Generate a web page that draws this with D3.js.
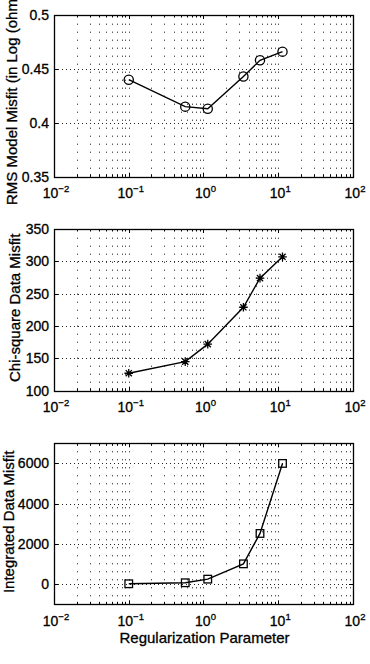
<!DOCTYPE html>
<html>
<head>
<meta charset="utf-8">
<script src="https://cdn.jsdelivr.net/npm/d3@7"></script>
<style>
  body { margin: 0; background: #fff; }
  svg { display: block; font-family: "Liberation Sans", Arial, Helvetica, sans-serif; }
  text { fill: #000; stroke: #000; stroke-width: 0.3; }
</style>
</head>
<body>
<div id="chart"></div>
<script>
// Data
const lambdas = [0.1, 0.57, 1.14, 3.42, 5.7, 11.4];
const rmsMisfit = [0.440, 0.415, 0.413, 0.443, 0.458, 0.466];
const chiSquare = [127, 145, 172, 229, 274, 307];
const integratedMisfit = [20, 70, 250, 1010, 2520, 6000];

const xTickExps = [-2, -1, 0, 1, 2];
const rmsTicks = [0.35, 0.4, 0.45, 0.5];
const rmsTickLabels = ['0.35', '0.4', '0.45', '0.5'];
const chiTicks = [100, 150, 200, 250, 300, 350];
const chiTickLabels = ['100', '150', '200', '250', '300', '350'];
const intTicks = [0, 2000, 4000, 6000];
const intTickLabels = ['0', '2000', '4000', '6000'];

// the first label runs off the top of the figure in the original
const yLabels = ['RMS Model Misfit (in Log (ohm', 'Chi-square Data Misfit', 'Integrated Data Misfit'];
const xLabel = 'Regularization Parameter';

// Dimensions
const width = 370;
const height = 664;
const left = 54;
const right = 353;

const panels = [
  {top: 15, bottom: 176.7, domain: [0.35, 0.5], values: rmsMisfit, ticks: rmsTicks, labels: rmsTickLabels, marker: 'circle', label: yLabels[0], labelX: 16.5},
  {top: 229, bottom: 390.7, domain: [100, 350], values: chiSquare, ticks: chiTicks, labels: chiTickLabels, marker: 'star', label: yLabels[1], labelX: 19.5},
  {top: 443.3, bottom: 604.3, domain: [-1000, 7000], values: integratedMisfit, ticks: intTicks, labels: intTickLabels, marker: 'square', label: yLabels[2], labelX: 14}
];

const svg = d3.select('#chart')
  .append('svg')
    .attr('width', width)
    .attr('height', height)

const scaleX = d3.scaleLog()
  .domain([1e-2, 1e2])
  .range([left, right])

// Minor + major grid positions on the log axis
const gridX = [];
for (let e = -2; e < 2; e++) {
  for (let m = 1; m < 10; m++) gridX.push(m * Math.pow(10, e));
}
gridX.push(100);

panels.forEach((p) => {
  const scaleY = d3.scaleLinear()
    .domain(p.domain)
    .range([p.bottom, p.top])
  const g = svg.append('g');

  // Vertical dotted grid
  g.append('g')
    .selectAll('line')
    .data(gridX.slice(1, -1))
    .join('line')
      .attr('x1', (d) => Math.round(scaleX(d)) + 0.5)
      .attr('x2', (d) => Math.round(scaleX(d)) + 0.5)
      .attr('y1', p.bottom)
      .attr('y2', p.top)
      .attr('stroke', '#111')
      .attr('stroke-width', 1)
      .attr('stroke-dasharray', '1,7')

  // Horizontal dotted grid at major ticks
  g.append('g')
    .selectAll('line')
    .data(p.ticks.filter((t) => t > p.domain[0] && t < p.domain[1]))
    .join('line')
      .attr('x1', left)
      .attr('x2', right)
      .attr('y1', (d) => Math.round(scaleY(d)) + 0.5)
      .attr('y2', (d) => Math.round(scaleY(d)) + 0.5)
      .attr('stroke', '#222')
      .attr('stroke-width', 1)
      .attr('stroke-dasharray', '1,3')

  // Inward ticks on all four sides
  const ticks = g.append('g').attr('stroke', '#000').attr('stroke-width', 1);
  gridX.forEach((d) => {
    const major = Math.abs(Math.log10(d) - Math.round(Math.log10(d))) < 1e-9;
    const len = major ? 4 : 2.5;
    const x = Math.round(scaleX(d)) + 0.5;
    ticks.append('line').attr('x1', x).attr('x2', x).attr('y1', p.bottom).attr('y2', p.bottom - len);
    ticks.append('line').attr('x1', x).attr('x2', x).attr('y1', p.top).attr('y2', p.top + len);
  });
  p.ticks.forEach((d) => {
    const y = Math.round(scaleY(d)) + 0.5;
    ticks.append('line').attr('x1', left).attr('x2', left + 4).attr('y1', y).attr('y2', y);
    ticks.append('line').attr('x1', right).attr('x2', right - 4).attr('y1', y).attr('y2', y);
  });

  // Box
  g.append('rect')
    .attr('x', left + 0.5)
    .attr('y', Math.round(p.top) + 0.5)
    .attr('width', right - left)
    .attr('height', Math.round(p.bottom) - Math.round(p.top))
    .attr('fill', 'none')
    .attr('stroke', '#000')
    .attr('stroke-width', 1.3)

  // Y tick labels
  g.append('g')
    .selectAll('text')
    .data(p.ticks)
    .join('text')
      .attr('x', left - 5)
      .attr('y', (d) => scaleY(d))
      .attr('dy', '0.36em')
      .attr('text-anchor', 'end')
      .attr('font-size', 14)
      .text((d, i) => p.labels[i])

  // X tick labels (10 with superscript exponent)
  const xl = g.append('g')
    .selectAll('text')
    .data(xTickExps)
    .join('text')
      .attr('x', (d) => scaleX(Math.pow(10, d)) + 2)
      .attr('y', p.bottom + 21.5)
      .attr('text-anchor', 'middle')
      .attr('font-size', 14)
  xl.append('tspan').text('10');
  xl.append('tspan')
    .attr('dy', -6)
    .attr('font-size', 9.5)
    .text((d) => (d < 0 ? '\u2212' + Math.abs(d) : d));

  // Y label
  const cy = (p.top + p.bottom) / 2;
  g.append('text')
    .attr('font-size', 15)
    .attr('transform', p.marker === 'circle'
      ? `translate(${p.labelX}, 205) rotate(-90)`
      : `translate(${p.labelX}, ${cy - 2}) rotate(-90)`)
    .attr('text-anchor', p.marker === 'circle' ? 'start' : 'middle')
    .text(p.label)

  // Line
  const line = d3.line()
    .x((d, i) => scaleX(lambdas[i]))
    .y((d) => scaleY(d))
  g.append('path')
    .attr('d', line(p.values))
    .attr('fill', 'none')
    .attr('stroke', '#000')
    .attr('stroke-width', 1.4)

  // Markers
  const marks = g.append('g')
    .attr('fill', 'none')
    .attr('stroke', '#000')
    .attr('stroke-width', 1.3)
  p.values.forEach((v, i) => {
    const x = scaleX(lambdas[i]);
    const y = scaleY(v);
    if (p.marker === 'circle') {
      marks.append('circle').attr('cx', x).attr('cy', y).attr('r', 4.6);
    } else if (p.marker === 'square') {
      marks.append('rect').attr('x', x - 3.8).attr('y', y - 3.8).attr('width', 7.6).attr('height', 7.6);
    } else {
      const r = 4.3;
      const q = r * 0.72;
      marks.append('path')
        .attr('d', `M${x - r},${y}H${x + r}M${x},${y - r}V${y + r}M${x - q},${y - q}L${x + q},${y + q}M${x - q},${y + q}L${x + q},${y - q}`);
    }
  });
});

// X label
svg.append('text')
  .attr('x', (left + right) / 2 + 1)
  .attr('y', 643)
  .attr('text-anchor', 'middle')
  .attr('font-size', 15)
  .text(xLabel)
</script>
</body>
</html>
